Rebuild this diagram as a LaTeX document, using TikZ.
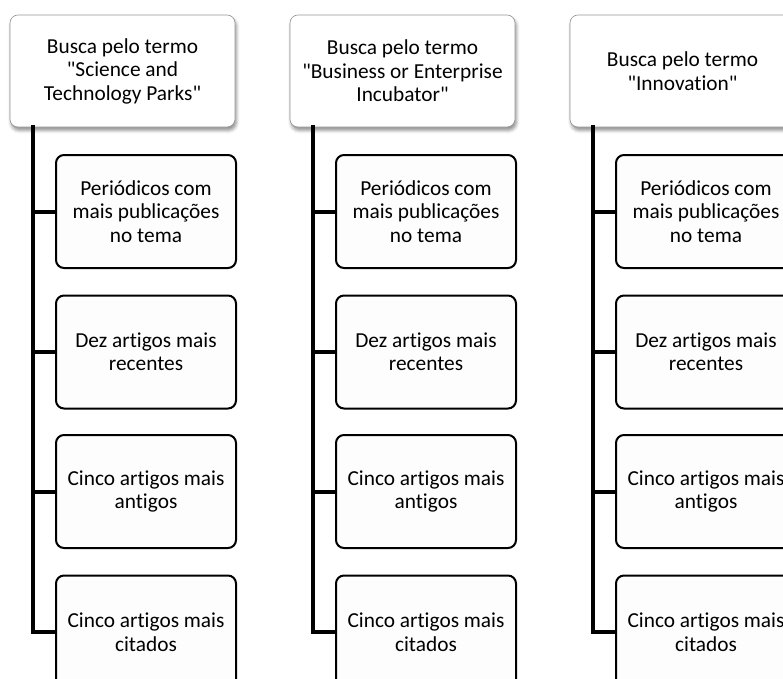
\documentclass[tikz,border=0pt]{standalone}
\usepackage{fontspec}
\setmainfont{Carlito}[Ligatures={NoCommon}]
\usetikzlibrary{shadows.blur}
\definecolor{framegray}{RGB}{150, 150, 150}
\definecolor{boxwhite}{RGB}{253, 253, 253}

\begin{document}
\begin{tikzpicture}[x=0.75pt, y=-0.75pt,
    termo/.style={draw=framegray, line width=0.5pt, fill=white, rounded corners=6pt,
      minimum width=168.75pt, minimum height=84pt, align=center, inner sep=2pt,
      font=\fontsize{16}{17.6}\selectfont,
      blur shadow={shadow xshift=1pt, shadow yshift=-2.5pt, shadow blur radius=2.5pt, shadow opacity=45}},
    etapa/.style={draw=black, line width=1.5pt, fill=boxwhite, rounded corners=6pt,
      minimum width=135pt, minimum height=84.75pt, align=center, inner sep=2pt,
      font=\fontsize{16}{17.6}\selectfont},
    trunk/.style={line width=3pt, line cap=rect}]
  \clip (0,0) rectangle (783,679);
  \useasboundingbox (0,0) rectangle (783,679);

  % Search terms
  \node[termo] (h1) at (122.5, 71) {Busca pelo termo\\\textquotedbl Science and\\Technology Parks\textquotedbl};
  \node[termo] (h2) at (402.5, 71) {Busca pelo termo\\\textquotedbl Business or Enterprise\\Incubator\textquotedbl};
  \node[termo] (h3) at (682.5, 71) {Busca pelo termo\\\textquotedbl Innovation\textquotedbl};

  % Steps under each term
  \foreach \c in {1,2,3} {
    \pgfmathsetmacro{\cx}{146 + (\c-1)*280}
    \node[etapa] (c\c-1) at (\cx, 211.5) {Periódicos com\\mais publicações\\no tema};
    \node[etapa] (c\c-2) at (\cx, 352) {Dez artigos mais\\recentes};
    \node[etapa] (c\c-3) at (\cx, 491.5) {Cinco artigos mais\\antigos};
    \node[etapa] (c\c-4) at (\cx, 632) {Cinco artigos mais\\citados};
    % trunk line
    \coordinate (t\c) at ([xshift=17.25pt]h\c.south west);
    \draw[trunk] (t\c) |- (c\c-4.west);
    \foreach \k in {1,2,3}
      \draw[trunk] (c\c-\k.west) -- (c\c-\k.west -| t\c);
  }
\end{tikzpicture}
\end{document}
